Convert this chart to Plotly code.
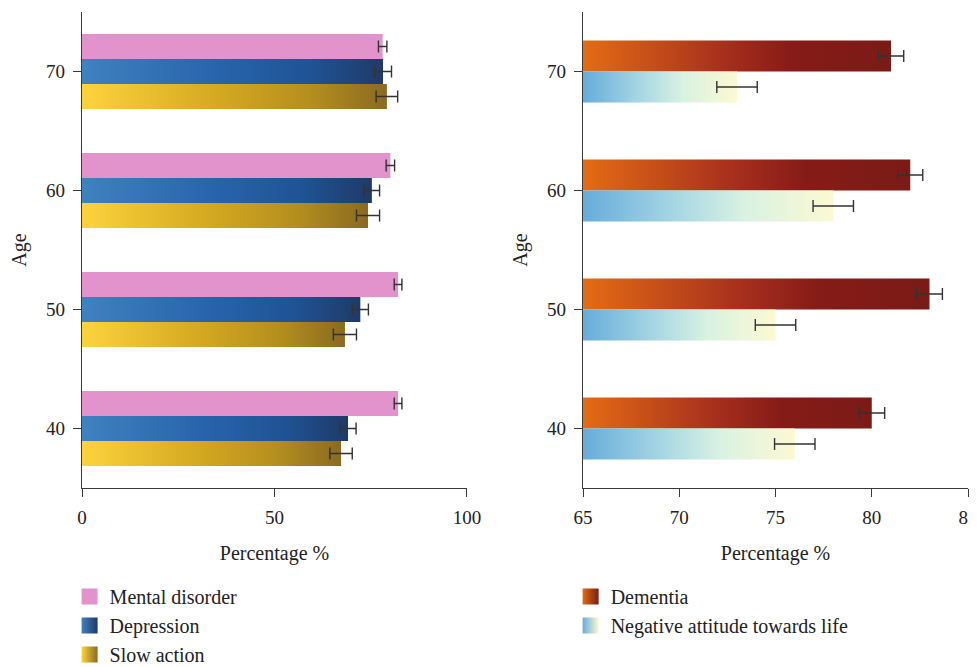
import plotly.graph_objects as go

# ---------------- data ----------------
ages = [40, 50, 60, 70]
age_ticks = [40, 50, 60, 70]

mental = [82.1, 82.1, 80.1, 78.1]
mental_err = [1.0, 1.0, 1.1, 1.1]
depression = [69.1, 72.3, 75.3, 78.2]
depression_err = [2.1, 2.1, 2.0, 2.2]
slow = [67.3, 68.3, 74.3, 79.2]
slow_err = [2.9, 3.0, 3.0, 2.8]

dementia = [80.0, 83.0, 82.0, 81.0]
dementia_err = [0.67, 0.67, 0.65, 0.66]
negative = [76.0, 75.0, 78.0, 73.0]
negative_err = [1.05, 1.05, 1.05, 1.05]

left_ticks = [0, 50, 100]
right_ticks = [65, 70, 75, 80, 85]

# ---------------- styles ----------------
FONT = "Liberation Serif"
AX = "#3a3a3a"
ERR = "#333333"

LEFT_RANGE = [0, 100]
RIGHT_RANGE = [65, 85]
Y_RANGE = [35, 75]

scale_mental = [[0, "#e293cb"], [1, "#e293cb"]]
scale_dep = [[0, "#4081bf"], [0.45, "#2864ab"], [0.75, "#1f5496"], [1, "#1f3a68"]]
scale_slow = [[0, "#fdd33d"], [0.45, "#d4a820"], [0.75, "#b48f1e"], [1, "#8a6a22"]]
scale_dem = [[0, "#e36c15"], [0.45, "#a8301d"], [0.68, "#861b17"], [1, "#7b1b16"]]
scale_neg = [[0, "#66acdb"], [0.4, "#acdae4"], [0.65, "#d9f2e2"], [1, "#fcf9d2"]]

LH = 2.1      # left: bar thickness in age units
RW = 2.6      # right: bar thickness
left_series = [
    ("Mental disorder", mental, mental_err, scale_mental, +LH),
    ("Depression", depression, depression_err, scale_dep, 0.0),
    ("Slow action", slow, slow_err, scale_slow, -LH),
]
right_series = [
    ("Dementia", dementia, dementia_err, scale_dem, +RW / 2),
    ("Negative attitude towards life", negative, negative_err, scale_neg, -RW / 2),
]

fig = go.Figure()


def add_series(name, vals, errs, cscale, offset, thick, base, xa, ya):
    centers = [a + offset for a in ages]
    for v, yc in zip(vals, centers):
        y0, y1 = yc - thick / 2, yc + thick / 2
        fig.add_trace(go.Scatter(
            x=[base, v, v, base, base], y=[y0, y0, y1, y1, y0],
            mode="lines", fill="toself",
            line=dict(width=0, color="rgba(0,0,0,0)"),
            fillgradient=dict(type="horizontal", colorscale=cscale, start=base, stop=v),
            hoverinfo="skip", showlegend=False, xaxis=xa, yaxis=ya,
        ))
    fig.add_trace(go.Scatter(
        x=vals, y=centers, mode="markers",
        marker=dict(size=2, color="rgba(0,0,0,0)"),
        error_x=dict(type="data", array=errs, color=ERR, thickness=1.4, width=6),
        showlegend=False, xaxis=xa, yaxis=ya, name=name,
    ))


for name, vals, errs, cs, off in left_series:
    add_series(name, vals, errs, cs, off, LH, LEFT_RANGE[0], "x", "y")
for name, vals, errs, cs, off in right_series:
    add_series(name, vals, errs, cs, off, RW, RIGHT_RANGE[0], "x2", "y2")

# legend entries
for name, vals, errs, cs, off in left_series:
    fig.add_trace(go.Scatter(
        x=[None], y=[None], mode="markers", name=name,
        marker=dict(symbol="square", size=16, color=cs[0][1],
                    gradient=dict(type="horizontal", color=cs[-1][1])),
        legend="legend", xaxis="x", yaxis="y",
    ))
for name, vals, errs, cs, off in right_series:
    fig.add_trace(go.Scatter(
        x=[None], y=[None], mode="markers", name=name,
        marker=dict(symbol="square", size=16, color=cs[0][1],
                    gradient=dict(type="horizontal", color=cs[-1][1])),
        legend="legend2", xaxis="x2", yaxis="y2",
    ))

axis_common = dict(
    showline=True, linecolor=AX, linewidth=1.3, ticks="outside", ticklen=8,
    tickcolor=AX, tickwidth=1.3, showgrid=False, zeroline=False, automargin=False,
    ticklabeloverflow="allow",
    tickfont=dict(family=FONT, size=19, color="#222"),
    title_font=dict(family=FONT, size=20, color="#222"),
)

L0, L1 = 0.0, 0.4345
R0, R1 = 0.5655, 1.0
LEG_DX = -0.014
LEG_Y = -0.187

fig.update_layout(
    width=977, height=667,
    margin=dict(l=74, r=17, t=4, b=187, autoexpand=False),
    paper_bgcolor="white", plot_bgcolor="white",
    font=dict(family=FONT, color="#222"),
    xaxis=dict(domain=[L0, L1], range=LEFT_RANGE, tickvals=left_ticks,
               title=dict(text="Percentage %", standoff=19), anchor="y",
               ticklabelstandoff=4, **axis_common),
    yaxis=dict(domain=[0, 1], range=Y_RANGE, tickvals=age_ticks,
               title=dict(text="Age", standoff=14), anchor="x",
               ticklabelstandoff=4, **axis_common),
    xaxis2=dict(domain=[R0, R1], range=RIGHT_RANGE, tickvals=right_ticks,
                title=dict(text="Percentage %", standoff=19), anchor="y2",
                ticklabelstandoff=4, **axis_common),
    yaxis2=dict(domain=[0, 1], range=Y_RANGE, tickvals=age_ticks,
                title=dict(text="Age", standoff=14), anchor="x2",
                ticklabelstandoff=4, **axis_common),
    legend=dict(x=L0 + LEG_DX, xanchor="left", y=LEG_Y, yanchor="top", maxheight=300,
                font=dict(family=FONT, size=20, color="#222"),
                bgcolor="rgba(0,0,0,0)", traceorder="normal", itemclick=False),
    legend2=dict(x=R0 + LEG_DX, xanchor="left", y=LEG_Y, yanchor="top", maxheight=300,
                 font=dict(family=FONT, size=20, color="#222"),
                 bgcolor="rgba(0,0,0,0)", traceorder="normal", itemclick=False),
    showlegend=True,
)

fig.write_html("out.html")
